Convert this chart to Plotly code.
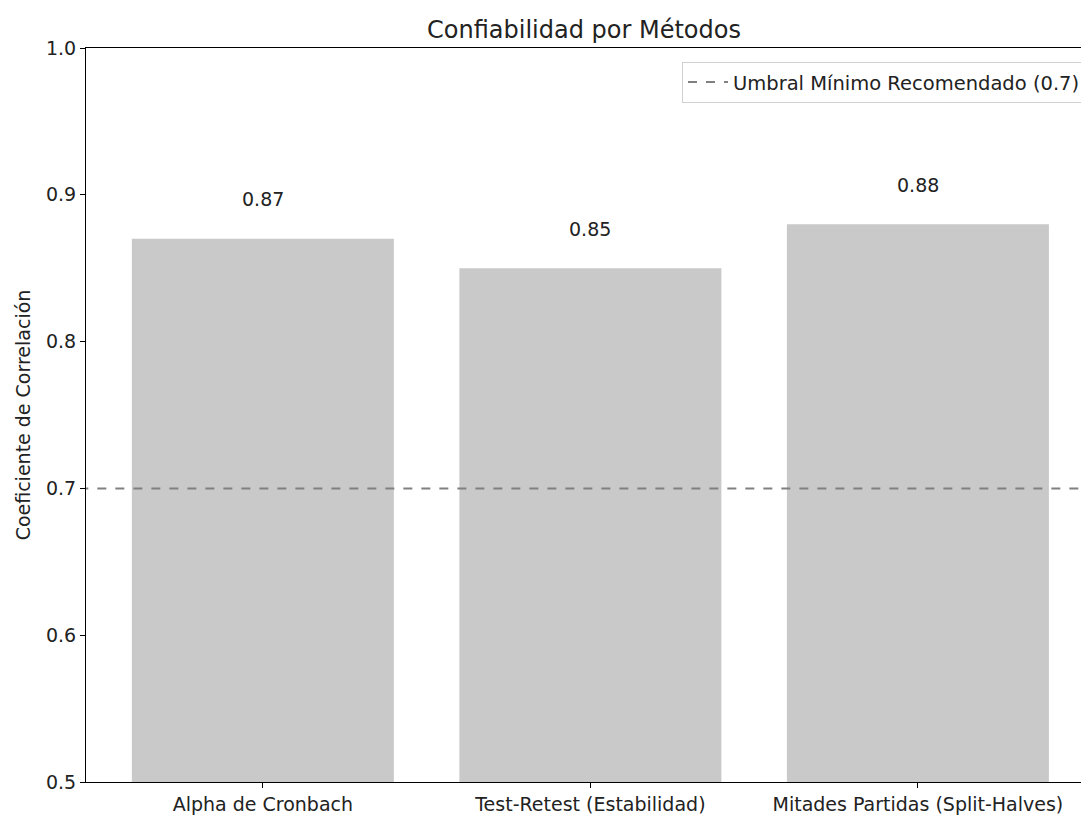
import plotly.graph_objects as go

# Reliability coefficients by method
metodos = ["Alpha de Cronbach", "Test-Retest (Estabilidad)", "Mitades Partidas (Split-Halves)"]
coeficientes = [0.87, 0.85, 0.88]
umbral = 0.7
y_ticks = [0.5, 0.6, 0.7, 0.8, 0.9, 1.0]

FONT = "DejaVu Sans, sans-serif"
TXT = "#222"

fig = go.Figure()

fig.add_trace(go.Bar(
    x=list(range(len(metodos))),
    y=coeficientes,
    width=0.8,
    marker=dict(color="#c9c9c9", line=dict(width=0)),
    showlegend=False,
    hoverinfo="skip",
))

# Minimum recommended threshold line
fig.add_trace(go.Scatter(
    x=[-1, len(metodos)],
    y=[umbral, umbral],
    mode="lines",
    line=dict(color="#808080", width=2, dash="dash"),
    name=f"Umbral Mínimo Recomendado ({umbral})",
    hoverinfo="skip",
))

# Value labels above each bar
for i, v in enumerate(coeficientes):
    fig.add_annotation(
        x=i, y=v + 0.02, text=f"{v:.2f}", showarrow=False, yshift=-3,
        yanchor="bottom", font=dict(family=FONT, size=19, color=TXT),
    )

fig.update_layout(
    width=1081, height=816,
    margin=dict(l=86, r=0, t=48, b=34, autoexpand=False),
    paper_bgcolor="white", plot_bgcolor="white",
    font=dict(family=FONT, size=19, color=TXT),
    title=dict(text="Confiabilidad por Métodos", x=584 / 1081, xanchor="center",
               y=1 - 30 / 816, yanchor="middle", font=dict(size=24, family=FONT, color=TXT)),
    legend=dict(
        x=(682 - 86) / 995, y=0.981, xanchor="left", yanchor="top",
        itemwidth=40,
        bgcolor="rgba(255,255,255,0.8)", bordercolor="#d0d0d0", borderwidth=1,
        font=dict(family=FONT, size=19.5, color=TXT),
    ),
    xaxis=dict(
        range=[-0.54, 2.498],
        tickmode="array", tickvals=list(range(len(metodos))), ticktext=metodos,
        showline=True, linecolor="black", linewidth=1.2, mirror=True,
        ticks="outside", ticklen=5, tickcolor="black",
        showgrid=False, zeroline=False,
    ),
    yaxis=dict(
        range=[0.5, 1.0],
        tickmode="array", tickvals=y_ticks, ticktext=[f"{t:.1f}" for t in y_ticks],
        showline=True, linecolor="black", linewidth=1.2,
        ticks="outside", ticklen=5, tickcolor="black",
        showgrid=False, zeroline=False,
        title=dict(text="Coeficiente de Correlación", font=dict(size=19, family=FONT), standoff=10),
    ),
)

fig.write_html("out.html")
